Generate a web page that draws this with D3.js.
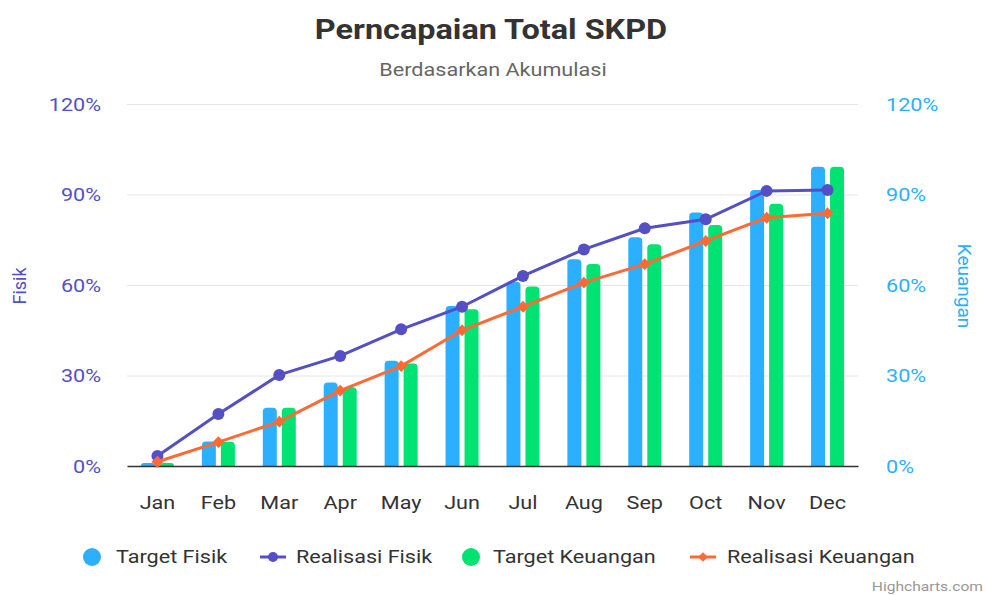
<!DOCTYPE html>
<html>
<head>
<meta charset="utf-8">
<script src="https://cdn.jsdelivr.net/npm/d3@7"></script>
<style>
  body { margin: 0; background: #fff; }
  svg { font-family: Roboto, "Noto Sans", sans-serif; }
</style>
</head>
<body>
<svg id="chart" width="985" height="595"></svg>
<script>
var months = ["Jan", "Feb", "Mar", "Apr", "May", "Jun", "Jul", "Aug", "Sep", "Oct", "Nov", "Dec"];
var targetFisik = [1, 8.1, 19.3, 27.7, 34.9, 53, 61.1, 68.5, 75.8, 84, 91.5, 99.2];
var realisasiFisik = [3.3, 17.2, 30.2, 36.5, 45.3, 52.8, 63, 71.8, 78.8, 81.8, 91.2, 91.5];
var targetKeuangan = [1, 8, 19.3, 26.1, 34, 52, 59.5, 67, 73.5, 79.9, 86.9, 99.2];
var realisasiKeuangan = [1.4, 7.9, 14.7, 25, 33.1, 45, 52.8, 60.8, 66.9, 74.6, 82.3, 83.8];
var yTicks = [0, 30, 60, 90, 120];

var blue = "#2caffe", purple = "#544fc5", green = "#00e272", orange = "#fe6a35";

var svg = d3.select("#chart");
var plotLeft = 127, plotRight = 858, plotTop = 104, plotBottom = 466;
var stretch = 1.2; // the picture's texts are a bit wider than Roboto

var x = d3.scaleBand().domain(months).range([plotLeft, plotRight]);
var y = d3.scaleLinear().domain([0, 120]).range([plotBottom, plotTop]);
var y2 = d3.scaleLinear().domain([0, 120]).range([plotBottom, plotTop]);

// title
svg.append("text").attr("class", "wide").attr("x", 491).attr("y", 39).attr("text-anchor", "middle")
  .attr("font-size", 27).attr("font-weight", "bold").attr("fill", "#333")
  .text("Perncapaian Total SKPD");
svg.append("text").attr("class", "wide").attr("x", 493).attr("y", 76).attr("text-anchor", "middle")
  .attr("font-size", 18).attr("fill", "#666")
  .text("Berdasarkan Akumulasi");

// grid
svg.append("g").selectAll("line").data(yTicks.slice(1)).enter().append("line")
  .attr("x1", plotLeft).attr("x2", plotRight)
  .attr("y1", function (d) { return y(d) + 0.5; })
  .attr("y2", function (d) { return y(d) + 0.5; })
  .attr("stroke", "#e6e6e6").attr("stroke-width", 1);

// left axis
var yAxisL = svg.append("g").attr("transform", "translate(" + 101 + ",0)")
  .call(d3.axisLeft(y).tickValues(yTicks).tickSize(0).tickPadding(0)
    .tickFormat(function (d) { return d + "%"; }));
yAxisL.select(".domain").remove();
yAxisL.selectAll("text").attr("class", "wide").attr("fill", purple).attr("font-size", 18)
  .attr("font-family", "Roboto, sans-serif").attr("dy", "0.35em");

// right axis
var yAxisR = svg.append("g").attr("transform", "translate(" + 886 + ",0)")
  .call(d3.axisRight(y2).tickValues(yTicks).tickSize(0).tickPadding(0)
    .tickFormat(function (d) { return d + "%"; }));
yAxisR.select(".domain").remove();
yAxisR.selectAll("text").attr("class", "wide").attr("fill", blue).attr("font-size", 18)
  .attr("font-family", "Roboto, sans-serif").attr("dy", "0.35em");

// axis titles
svg.append("text").attr("transform", "translate(26,286) rotate(-90)")
  .attr("text-anchor", "middle").attr("font-size", 18).attr("fill", purple).text("Fisik");
svg.append("text").attr("transform", "translate(958,286) rotate(90)")
  .attr("text-anchor", "middle").attr("font-size", 19).attr("fill", blue).text("Keuangan");

// bars
var barW = 14, r = 4;
function barPath(cx, v, scale) {
  var x0 = cx - barW / 2, x1 = cx + barW / 2, yt = scale(v), yb = plotBottom;
  var rr = Math.min(r, (yb - yt));
  return "M" + x0 + "," + yb + "V" + (yt + rr) +
    "Q" + x0 + "," + yt + " " + (x0 + rr) + "," + yt +
    "H" + (x1 - rr) + "Q" + x1 + "," + yt + " " + x1 + "," + (yt + rr) +
    "V" + yb + "Z";
}
function cx(i) { return x(months[i]) + x.bandwidth() / 2; }

svg.append("g").selectAll("path").data(targetFisik).enter().append("path")
  .attr("d", function (d, i) { return barPath(cx(i) - 9.5, d, y); })
  .attr("fill", blue);
svg.append("g").selectAll("path").data(targetKeuangan).enter().append("path")
  .attr("d", function (d, i) { return barPath(cx(i) + 9.5, d, y2); })
  .attr("fill", green);

// x axis
var xAxis = svg.append("g").attr("transform", "translate(0," + plotBottom + ")")
  .call(d3.axisBottom(x).tickSize(0).tickPadding(30));
xAxis.select(".domain").attr("stroke", "#333").attr("stroke-width", 1.5);
xAxis.selectAll("text").attr("class", "wide").attr("fill", "#333").attr("font-size", 18)
  .attr("font-family", "Roboto, sans-serif");

// lines
var line1 = d3.line().x(function (d, i) { return cx(i); }).y(function (d) { return y(d); });
var line2 = d3.line().x(function (d, i) { return cx(i); }).y(function (d) { return y2(d); });

svg.append("path").datum(realisasiFisik).attr("d", line1)
  .attr("fill", "none").attr("stroke", purple).attr("stroke-width", 3);
svg.append("g").selectAll("circle").data(realisasiFisik).enter().append("circle")
  .attr("cx", function (d, i) { return cx(i); }).attr("cy", function (d) { return y(d); })
  .attr("r", 6).attr("fill", purple);

svg.append("path").datum(realisasiKeuangan).attr("d", line2)
  .attr("fill", "none").attr("stroke", orange).attr("stroke-width", 3);
var diamond = d3.symbol().type(d3.symbolDiamond2).size(90);
svg.append("g").selectAll("path").data(realisasiKeuangan).enter().append("path")
  .attr("d", diamond)
  .attr("transform", function (d, i) { return "translate(" + cx(i) + "," + y2(d) + ")"; })
  .attr("fill", orange);

// legend
var legendNames = ["Target Fisik", "Realisasi Fisik", "Target Keuangan", "Realisasi Keuangan"];
var legendColors = [blue, purple, green, orange];
var legendTypes = ["bar", "circle", "bar", "diamond"];
var legendX = [92, 273, 471, 703];
var legendTextX = [116, 296, 493, 727];
var ly = 557;
legendNames.forEach(function (d, i) {
  var g = svg.append("g").attr("transform", "translate(" + legendX[i] + "," + ly + ")");
  if (legendTypes[i] === "bar") {
    g.append("circle").attr("r", 9).attr("fill", legendColors[i]);
  } else {
    g.append("line").attr("x1", -13).attr("x2", 13).attr("stroke", legendColors[i]).attr("stroke-width", 3);
    if (legendTypes[i] === "circle") g.append("circle").attr("r", 5).attr("fill", legendColors[i]);
    else g.append("path").attr("d", d3.symbol().type(d3.symbolDiamond2).size(60)).attr("fill", legendColors[i]);
  }
  svg.append("text").attr("class", "wide").attr("x", legendTextX[i]).attr("y", ly)
    .attr("dy", "0.35em").attr("font-size", 18).attr("fill", "#333").text(d);
});

svg.append("text").attr("class", "wide").attr("x", 983).attr("y", 591).attr("text-anchor", "end")
  .attr("font-size", 13).attr("fill", "#999").text("Highcharts.com");

// widen the horizontal texts to the picture's proportions
svg.selectAll("text.wide").each(function () {
  var w = this.getComputedTextLength();
  d3.select(this).attr("textLength", w * stretch).attr("lengthAdjust", "spacingAndGlyphs");
});
</script>
</body>
</html>
